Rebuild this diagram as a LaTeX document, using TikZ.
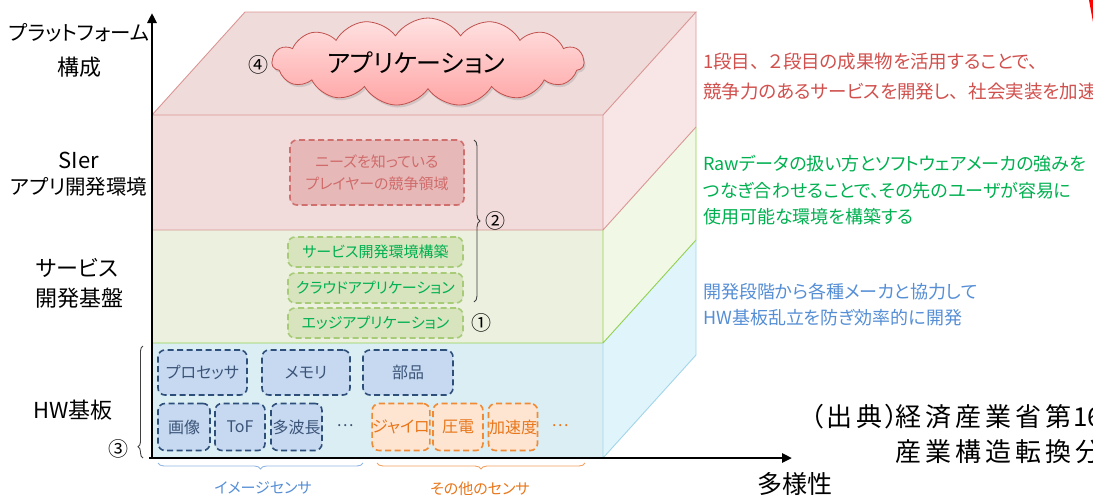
\documentclass[tikz,border=0pt]{standalone}
\usepackage{fontspec}
\setmainfont[RawFeature=+palt]{Noto Sans CJK JP}
\newfontfamily\jpmono{Noto Sans CJK JP}
\usetikzlibrary{shapes.symbols,arrows.meta,decorations.pathreplacing,shadows}
\definecolor{pkF}{HTML}{F2DCDB}
\definecolor{pkT}{HTML}{F0DBDB}
\definecolor{pkS}{HTML}{F8E5E5}
\definecolor{pkL}{HTML}{D99694}
\definecolor{grF}{HTML}{EBF1DE}
\definecolor{grS}{HTML}{F1F9E6}
\definecolor{grL}{HTML}{92D050}
\definecolor{blF}{HTML}{DAEEF3}
\definecolor{blS}{HTML}{E0F4FC}
\definecolor{blL}{HTML}{A3D5EA}
\definecolor{rbF}{HTML}{E6B9B8}
\definecolor{rbD}{HTML}{D0706E}
\definecolor{rbT}{HTML}{D06B6B}
\definecolor{gbF}{HTML}{D7E4BD}
\definecolor{gbD}{HTML}{A8CB78}
\definecolor{gbT}{HTML}{00B050}
\definecolor{hbF}{HTML}{C6D9F1}
\definecolor{hbD}{HTML}{2E4F7A}
\definecolor{hbT}{HTML}{3B5478}
\definecolor{obF}{HTML}{FDE5D2}
\definecolor{obD}{HTML}{F08A35}
\definecolor{obT}{HTML}{E8761A}
\definecolor{txR}{HTML}{D0504D}
\definecolor{txG}{HTML}{00B050}
\definecolor{txB}{HTML}{558ED5}
\definecolor{cloudL}{HTML}{C0504D}
\definecolor{cloudT}{HTML}{FFE2E2}
\definecolor{cloudB}{HTML}{FFA5A5}
\definecolor{brG}{HTML}{404040}
\definecolor{brB}{HTML}{8EB4E3}
\definecolor{brO}{HTML}{F0A060}
\newcommand{\fs}[1]{\fontsize{#1}{#1}\selectfont}
\newcommand{\cc}[1]{\makebox[30pt]{#1}}
\newcommand{\tou}{、\hspace{0.5em}}
\tikzset{
  lbl/.style={inner sep=0pt, font=\fs{22}},
  lbls/.style={inner sep=0pt, font=\fs{20.5}},
  rtxt/.style={inner sep=0pt, anchor=west, font=\fontsize{18}{26}\selectfont, align=left},
  dbox/.style={rounded corners=7pt, line width=1.6pt, dash pattern=on 6pt off 3.5pt, inner sep=0pt},
  rbox/.style={dbox, draw=rbD, fill=rbF, text=rbT},
  gbox/.style={dbox, draw=gbD, fill=gbF, text=gbT, minimum width=175pt, minimum height=30pt, font=\fs{15}},
  hbox/.style={dbox, draw=hbD, fill=hbF, text=hbT, font=\fs{16}},
  obox/.style={dbox, draw=obD, fill=obF, text=obT, font=\fs{16}, minimum height=47pt},
  circnum/.style={inner sep=0pt, font=\fs{20}},
  axis/.style={line width=2.6pt, -{Triangle[length=10pt,width=9pt]}},
  brc/.style={decorate, line width=0.9pt},
}
\begin{document}
\begin{tikzpicture}[x=1pt,y=-1pt]
\useasboundingbox (0,0) rectangle (1093,496);
\clip (0,0) rectangle (1093,496);
% ---- cube faces ----
\fill[pkT] (152,115) -- (603,115) -- (696,12) -- (245,12) -- cycle;
\fill[pkF] (152,115) rectangle (603,230);
\fill[grF] (152,230) rectangle (603,343);
\fill[blF] (152,343) rectangle (603,458);
\fill[pkS] (603,115) -- (696,12) -- (696,127) -- (603,230) -- cycle;
\fill[grS] (603,230) -- (696,127) -- (696,240) -- (603,343) -- cycle;
\fill[blS] (603,343) -- (696,240) -- (696,355) -- (603,458) -- cycle;
\draw[pkL, line width=0.9pt] (152,115) -- (245,12) -- (696,12) -- (603,115) -- cycle;
\draw[pkL, line width=0.9pt] (603,115) -- (603,230) (696,12) -- (696,127) -- (603,230) -- (152,230);
\draw[grL, line width=0.9pt] (603,230) -- (603,343) (696,127) -- (696,240) -- (603,343) -- (152,343);
\draw[blL, line width=0.9pt] (603,343) -- (603,458) (696,240) -- (696,355) -- (603,458);
% ---- axes ----
\coordinate (o) at (152,458);
\coordinate (ytop) at (152,13);
\coordinate (xo) at (149,458);
\coordinate (xend) at (792,458);
\draw[axis] (o) -- (ytop);
\draw[axis] (xo) -- (xend);
\node[inner sep=0pt, font=\fs{25}] (div) at (795,484) {多様性};
% ---- cloud ----
\node[cloud, cloud puffs=15, cloud puff arc=115, aspect=3.6, minimum width=312pt, minimum height=88pt,
      draw=cloudL, line width=0.8pt, top color=cloudT, bottom color=cloudB,
      drop shadow={shadow xshift=1.5pt, shadow yshift=-2.5pt, opacity=0.25}] (cloud) at (428,62) {};
\node[inner sep=0pt, font=\fs{25}] (apptext) at (416,63) {アプリケーション};
\node[circnum] (n4) at (258,65) {④};
% ---- left labels ----
\node[lbls] (pf1) at (79,33) {プラットフォーム};
\node[lbl] (pf2) at (79,67) {構成};
\node[lbl] (si1) at (79,160) {SIer};
\node[lbls] (si2) at (79,187) {アプリ開発環境};
\node[lbl] (sv1) at (77,268) {サービス};
\node[lbl] (sv2) at (79,298) {開発基盤};
\node[lbl] (hw) at (73,410) {HW基板};
% ---- upper boxes ----
\node[rbox, minimum width=174pt, minimum height=65pt, align=center, font=\fontsize{15}{22}\selectfont] (needs) at (377,172.5) {ニーズを知っている\\プレイヤーの競争領域};
\node[gbox] (svc) at (375.5,252) {サービス開発環境構築};
\node[gbox] (cloudapp) at (375.5,288) {クラウドアプリケーション};
\node[gbox] (edge) at (375.5,323) {エッジアプリケーション};
\node[circnum] (n1) at (481,323) {①};
\coordinate (b2t) at (474,140);
\coordinate (b2b) at (474,302);
\draw[brc, brG, decoration={brace, amplitude=6pt}] (b2t) -- (b2b);
\node[circnum] (n2) at (495,221) {②};
% ---- HW boxes ----
\node[hbox, minimum width=89pt, minimum height=45pt] (proc) at (202.5,372.5) {プロセッサ};
\node[hbox, minimum width=88pt, minimum height=45pt] (mem) at (306,372.5) {メモリ};
\node[hbox, minimum width=90pt, minimum height=45pt] (parts) at (408,372.5) {部品};
\node[hbox, minimum width=52pt, minimum height=47pt] (img) at (184,427) {画像};
\node[hbox, minimum width=50pt, minimum height=47pt] (tof) at (240,427) {ToF};
\node[hbox, minimum width=51pt, minimum height=47pt] (multi) at (296.5,427) {多波長};
\node[inner sep=0pt, text=hbT, font=\fs{16}] (dots1) at (345,426) {…};
\node[obox, minimum width=51pt] (gyro) at (401,427) {ジャイロ};
\node[obox, minimum width=50pt] (piezo) at (458,427) {圧電};
\node[obox, minimum width=49pt] (accel) at (513,427) {加速度};
\node[inner sep=0pt, text=obT, font=\fs{16}] (dots2) at (560,426) {…};
% ---- braces ----
\coordinate (b3b) at (143,458);
\coordinate (b3t) at (143,346);
\draw[brc, brG, decoration={brace, amplitude=5pt, aspect=0.1}] (b3b) -- (b3t);
\node[circnum] (n3) at (118,449) {③};
\coordinate (bbr) at (363,463);
\coordinate (bbl) at (158,463);
\draw[brc, brB, decoration={brace, amplitude=6pt}] (bbr) -- (bbl);
\node[inner sep=0pt, text=txB, font=\fs{15}] (imgsensor) at (263,488) {イメージセンサ};
\coordinate (obr) at (585,463);
\coordinate (obl) at (377,463);
\draw[brc, brO, decoration={brace, amplitude=6pt}] (obr) -- (obl);
\node[inner sep=0pt, text=obT, font=\fs{15}] (othersensor) at (480,489) {その他のセンサ};
% ---- right texts ----
\node[rtxt, text=txR, font=\fontsize{18.5}{26}\selectfont] (r1) at (703,62) {1段目\tou ２段目の成果物を活用することで、};
\node[rtxt, text=txR, font=\fontsize{18.5}{26}\selectfont] (r2) at (703,91) {競争力のあるサービスを開発し\tou 社会実装を加速};
\node[rtxt, text=txG] (g1) at (703,164) {Rawデータの扱い方とソフトウェアメーカの強みを};
\node[rtxt, text=txG] (g2) at (703,191) {つなぎ合わせることで、その先のユーザが容易に};
\node[rtxt, text=txG] (g3) at (703,217) {使用可能な環境を構築する};
\node[rtxt, text=txB] (bl1) at (703,292) {開発段階から各種メーカと協力して};
\node[rtxt, text=txB] (bl2) at (703,318) {HW基板乱立を防ぎ効率的に開発};
% ---- citation ----
\node[inner sep=0pt, anchor=west, font=\jpmono\fs{26}] (cite1) at (800,417)
  {\makebox[24pt][r]{（}\cc{出}\cc{典}\makebox[9pt][l]{）}\cc{経}\cc{済}\cc{産}\cc{業}\cc{省}\cc{第}16};
\node[inner sep=0pt, anchor=west, font=\jpmono\fs{26}] (cite2) at (893,452)
  {\cc{産}\cc{業}\cc{構}\cc{造}\cc{転}\cc{換}\cc{分}};
% ---- red fragment ----
\fill[red] (1089,0) -- (1093,0) -- (1093,22) -- cycle;
\end{tikzpicture}
\end{document}
